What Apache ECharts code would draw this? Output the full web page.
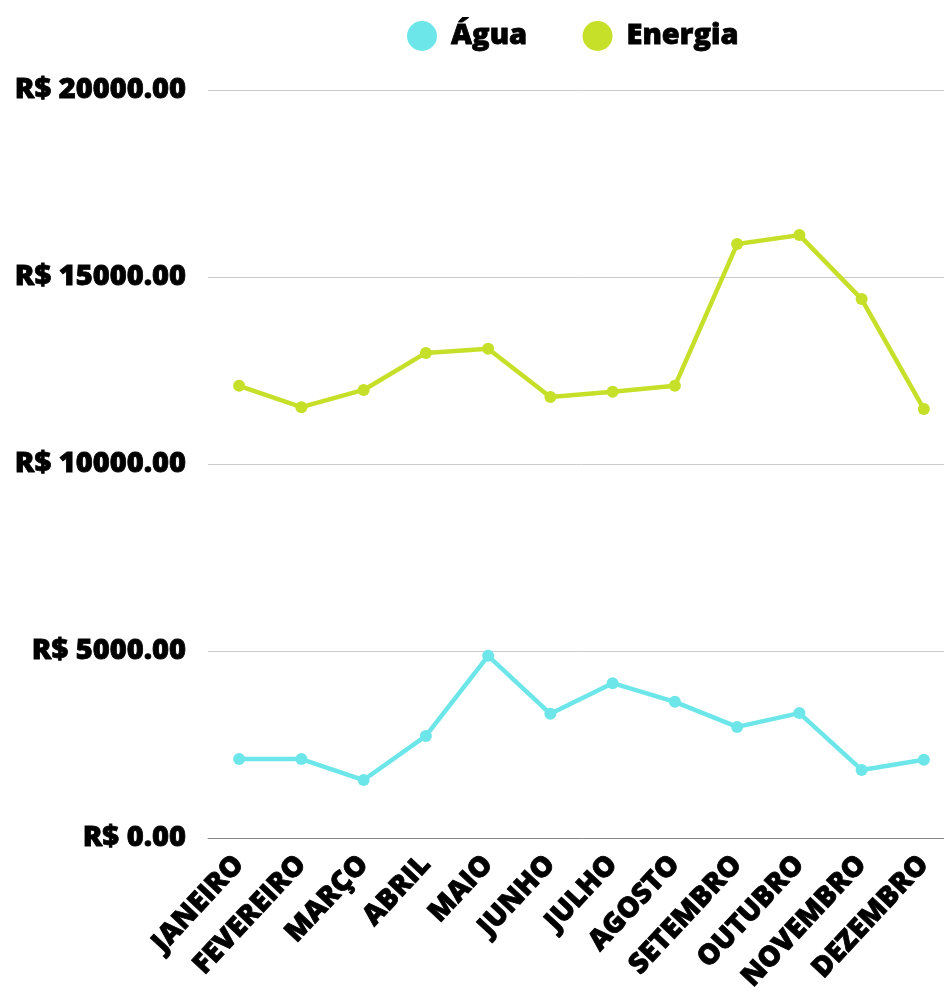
<!DOCTYPE html>
<html>
<head>
    <meta charset="utf-8">
    <title>Água e Energia</title>
    <script src="https://cdn.jsdelivr.net/npm/echarts@6/dist/echarts.min.js"></script>
    <style>
        html, body { margin: 0; padding: 0; background: #fff; overflow: hidden; }
    </style>
</head>
<body>

<!-- um pouco mais largo que a janela: o eixo x continua além da borda direita -->
<div id="main" style="width: 955px;height:992px;"></div>

<script type="text/javascript">

    // dados
    var meses = ['JANEIRO', 'FEVEREIRO', 'MARÇO', 'ABRIL', 'MAIO', 'JUNHO',
        'JULHO', 'AGOSTO', 'SETEMBRO', 'OUTUBRO', 'NOVEMBRO', 'DEZEMBRO'];
    var agua = [2110, 2110, 1550, 2730, 4870, 3320, 4140, 3640, 2970, 3340, 1820, 2090];
    var energia = [12090, 11520, 11980, 12970, 13080, 11790, 11930, 12090, 15880, 16120, 14410, 11470];
    var nomes = ['Água', 'Energia'];
    var cores = ['#6de6e9', '#c6df29'];

    var fonte = '"Open Sans", "Noto Sans", sans-serif';

    var myChart = echarts.init(document.getElementById('main'));

    var option = {
        animation: false,
        color: cores,
        legend: {
            data: nomes,
            top: 16,
            left: 402,
            icon: 'circle',
            itemWidth: 30,
            itemHeight: 30,
            itemGap: 55,
            textStyle: {
                fontFamily: fonte,
                fontWeight: 800,
                fontSize: 29,
                color: '#000',
                textBorderColor: '#000',
                textBorderWidth: 0.8,
                padding: [0, 0, 0, 9]
            }
        },
        grid: {
            left: 208,
            right: 0,
            top: 90,
            bottom: 154,
            containLabel: false,
            outerBoundsMode: 'none'
        },
        xAxis: {
            type: 'category',
            data: meses,
            boundaryGap: true,
            axisTick: { show: false },
            axisLine: { lineStyle: { color: '#888', width: 1 } },
            axisLabel: {
                rotate: 47,
                interval: 0,
                margin: 22,
                fontFamily: fonte,
                fontWeight: 800,
                fontSize: 28,
                color: '#000',
                textBorderColor: '#000',
                textBorderWidth: 0.8
            }
        },
        yAxis: {
            type: 'value',
            min: 0,
            max: 20000,
            interval: 5000,
            axisLine: { show: false },
            axisTick: { show: false },
            splitLine: { lineStyle: { color: '#cccccc', width: 1 } },
            axisLabel: {
                margin: 22,
                fontFamily: fonte,
                fontWeight: 800,
                fontSize: 29,
                color: '#000',
                textBorderColor: '#000',
                textBorderWidth: 0.8,
                formatter: function (v) {
                    return 'R$ ' + v.toFixed(2);
                }
            }
        },
        series: [
            {
                name: nomes[0],
                type: 'line',
                data: agua,
                symbol: 'circle',
                symbolSize: 12,
                lineStyle: { width: 4.5 }
            },
            {
                name: nomes[1],
                type: 'line',
                data: energia,
                symbol: 'circle',
                symbolSize: 12,
                lineStyle: { width: 4.5 }
            }
        ]
    };

    myChart.setOption(option);

</script>
</body>
</html>
